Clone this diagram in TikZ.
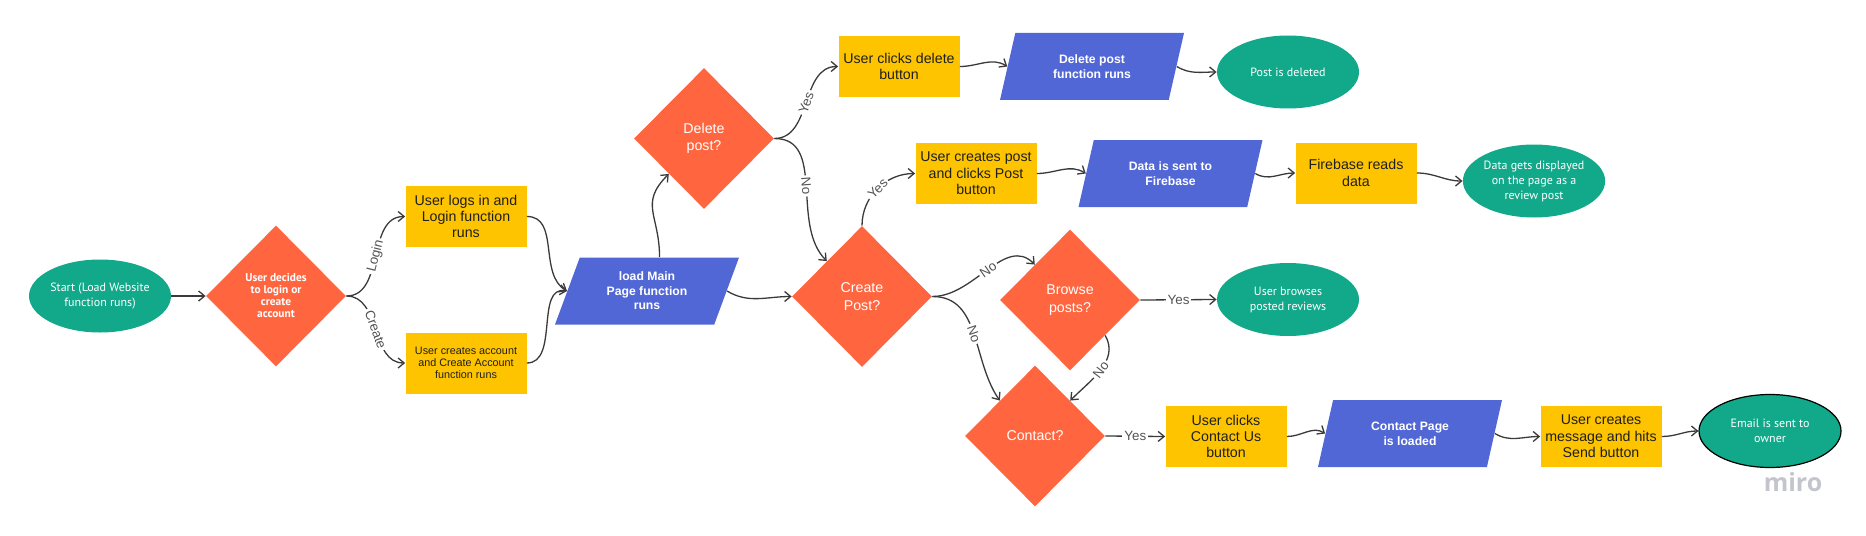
\documentclass[tikz,border=0pt]{standalone}
\usepackage{fontspec}
\setmainfont{Liberation Sans}
\newfontfamily\ovalfont{PT Sans}
\newfontfamily\markfont{Open Sans}
\usetikzlibrary{shapes.geometric,arrows.meta}
\definecolor{termgreen}{HTML}{12A88A}
\definecolor{askorange}{HTML}{FF6640}
\definecolor{stepyellow}{HTML}{FEC400}
\definecolor{ioblue}{HTML}{5267D6}
\definecolor{linegray}{HTML}{3A3A3A}
\definecolor{labelgray}{HTML}{555555}
\definecolor{markgray}{HTML}{C4C4CF}
\begin{document}
\begin{tikzpicture}[x=0.5pt,y=0.5pt,
    oval/.style={ellipse,fill=termgreen,text=white,minimum width=71pt,minimum height=36.5pt,inner sep=0pt,align=center,font=\ovalfont\fontsize{6}{7.5}\selectfont},
    ask/.style={diamond,fill=askorange,text=white,minimum width=70pt,minimum height=70.5pt,inner sep=0pt,align=center,font=\fontsize{7.1}{8.8}\selectfont},
    task/.style={rectangle,fill=stepyellow,text=black!88,minimum width=60.5pt,minimum height=30.5pt,inner sep=0pt,align=center,font=\fontsize{7.1}{8.2}\selectfont},
    io/.style={trapezium,trapezium left angle=57,trapezium right angle=123,trapezium stretches body,fill=ioblue,text=white,minimum width=92pt,minimum height=33.5pt,inner sep=0pt,align=center,font=\bfseries\fontsize{6.1}{7.3}\selectfont},
    link/.style={draw=linegray,line width=0.65pt,-{Straight Barb[length=3pt,width=5pt]}},
    tag/.style={fill=white,text=labelgray,inner sep=1pt,font=\fontsize{6.7}{7}\selectfont}]
    \useasboundingbox (0,0) rectangle (1866,-535);
    \node[oval] (start) at (100,-296) {Start (Load Website\\function runs)};
    \node[ask,font=\ovalfont\bfseries\fontsize{5.7}{6}\selectfont] (decide) at (276,-296) {User decides\\to login or\\create\\account};
    \node[task] (login) at (466,-216.5) {User logs in and\\Login function\\runs};
    \node[task,font=\fontsize{5.4}{6}\selectfont] (newacct) at (466,-363) {User creates account\\and Create Account\\function runs};
    \node[io] (mainpage) at (647,-291) {load Main\\Page function\\runs};
    \node[ask] (delq) at (704,-138.5) {Delete\\post?};
    \node[task] (clickdel) at (899,-66.5) {User clicks delete\\button};
    \node[io] (delfn) at (1092,-66.5) {Delete post\\function runs};
    \node[oval] (deleted) at (1288,-72) {Post is deleted};
    \node[ask] (createq) at (862,-296.5) {Create\\Post?};
    \node[task] (newpost) at (976,-173.5) {User creates post\\and clicks Post\\button};
    \node[io] (sent) at (1170.5,-173.5) {Data is sent to\\Firebase};
    \node[task] (fbread) at (1356,-173) {Firebase reads\\data};
    \node[oval] (shown) at (1534,-181) {Data gets displayed\\on the page as a\\review post};
    \node[ask] (browseq) at (1070,-300) {Browse\\posts?};
    \node[oval] (browsing) at (1288,-299.5) {User browses\\posted reviews};
    \node[ask] (contactq) at (1035,-436) {Contact?};
    \node[task] (clickcontact) at (1226,-436.5) {User clicks\\Contact Us\\button};
    \node[io] (contactpg) at (1410,-433.5) {Contact Page\\is loaded};
    \node[task] (message) at (1601,-436.5) {User creates\\message and hits\\Send button};
    \node[oval,draw=black,line width=0.6pt] (email) at (1770,-431) {Email is sent to\\owner};
    \node[text=markgray,font=\markfont\bfseries\fontsize{12.5}{13}\selectfont] (miro) at (1793,-482) {miro};

    \draw[link] (start) -- (decide);
    \draw[link] (decide.east) to[out=0,in=180] node[tag,sloped] {Login} (login.west);
    \draw[link] (decide.east) to[out=0,in=180] node[tag,sloped] {Create} (newacct.west);
    \draw[link] (login.east) to[out=0,in=150] (mainpage.left side);
    \draw[link] (newacct.east) to[out=0,in=170] (mainpage.left side);
    \draw[link] (mainpage.top side) to[out=90,in=225,looseness=1.3] (delq.south west);
    \draw[link] (mainpage.right side) to[out=-31,in=180] (createq.west);
    \draw[link] (delq.east) to[out=0,in=180] node[tag,sloped] {Yes} (clickdel.west);
    \draw[link] (delq.east) to[out=0,in=135] node[tag,sloped] {No} (createq.north west);
    \draw[link] (clickdel.east) to[out=0,in=148] (delfn.left side);
    \draw[link] (delfn.right side) to[out=-31,in=180] (deleted.west);
    \draw[link] (createq.north) to[out=90,in=180] node[tag,sloped] {Yes} (newpost.west);
    \draw[link] (newpost.east) to[out=0,in=148] (sent.left side);
    \draw[link] (sent.right side) to[out=-31,in=180] (fbread.west);
    \draw[link] (fbread.east) to[out=0,in=180] (shown.west);
    \draw[link] (createq.east) to[out=0,in=135] node[tag,sloped] {No} (browseq.north west);
    \draw[link] (createq.east) to[out=0,in=125] node[tag,sloped] {No} (contactq.north west);
    \draw[link] (browseq.east) -- node[tag] {Yes} (browsing.west);
    \draw[link] (browseq.south east) to[out=-60,in=45] node[tag,sloped] {No} (contactq.north east);
    \draw[link] (contactq.east) -- node[tag] {Yes} (clickcontact.west);
    \draw[link] (clickcontact.east) to[out=0,in=148] (contactpg.left side);
    \draw[link] (contactpg.right side) to[out=-31,in=180] (message.west);
    \draw[link] (message.east) to[out=0,in=180] (email.west);
\end{tikzpicture}
\end{document}
